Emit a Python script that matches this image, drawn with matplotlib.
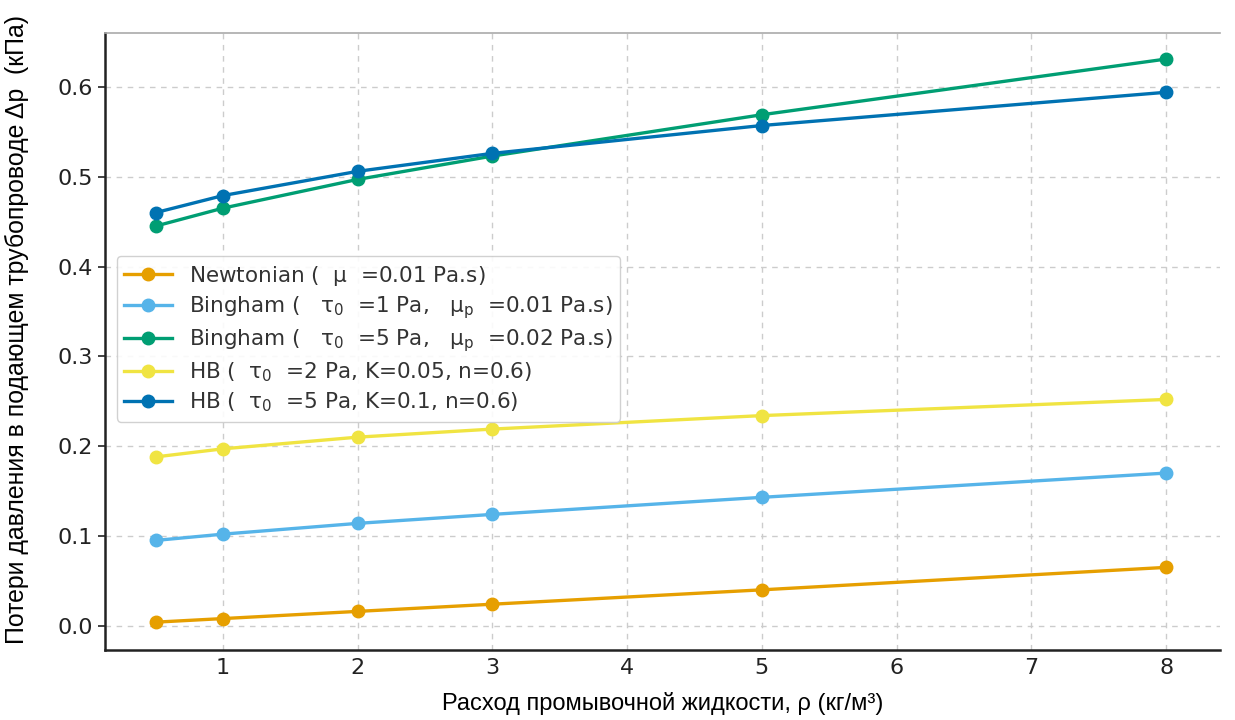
import matplotlib
matplotlib.use("Agg")
import matplotlib.pyplot as plt

x = [0.5, 1, 2, 3, 5, 8]
newtonian = [0.004, 0.008, 0.016, 0.024, 0.040, 0.065]
bingham1 = [0.095, 0.102, 0.114, 0.124, 0.143, 0.170]
bingham5 = [0.445, 0.465, 0.497, 0.523, 0.569, 0.631]
hb1 = [0.188, 0.197, 0.210, 0.219, 0.234, 0.252]
hb5 = [0.460, 0.479, 0.506, 0.526, 0.557, 0.594]

labels = [
    r"Newtonian (  $\mathregular{μ}$  =0.01 Pa.s)",
    r"Bingham (   $\mathregular{τ_0}$  =1 Pa,   $\mathregular{μ_p}$  =0.01 Pa.s)",
    r"Bingham (   $\mathregular{τ_0}$  =5 Pa,   $\mathregular{μ_p}$  =0.02 Pa.s)",
    r"HB (  $\mathregular{τ_0}$  =2 Pa, K=0.05, n=0.6)",
    r"HB (  $\mathregular{τ_0}$  =5 Pa, K=0.1, n=0.6)",
]
colors = ["#E69F00", "#56B4E9", "#009E73", "#F0E442", "#0072B2"]
series = [newtonian, bingham1, bingham5, hb1, hb5]

fig = plt.figure(figsize=(12.35, 7.2), dpi=100)
ax = fig.add_axes([105/1235, 70/720, (1220-105)/1235, (650-33)/720])

for ys, c, lab in zip(series, colors, labels):
    ax.plot(x, ys, color=c, marker="o", markersize=9, linewidth=2.4, label=lab)

ax.set_xlim(0.124, 8.4)
ax.set_ylim(-0.027, 0.660)
ax.set_xticks([1, 2, 3, 4, 5, 6, 7, 8])
ax.set_yticks([0.0, 0.1, 0.2, 0.3, 0.4, 0.5, 0.6])
ax.tick_params(axis="both", labelsize=16, colors="#222222")
ax.tick_params(axis="x", length=0, pad=6)
ax.tick_params(axis="y", length=5, width=1.2)
ax.grid(True, linestyle=(0, (4, 4)), color="#cccccc", linewidth=1)
ax.set_axisbelow(True)

ax.spines["right"].set_visible(False)
ax.spines["top"].set_color("#aaaaaa")
ax.spines["top"].set_linewidth(1.2)
for s in ["left", "bottom"]:
    ax.spines[s].set_linewidth(1.8)
    ax.spines[s].set_color("#222222")

ax.set_xlabel("Расход промывочной жидкости, ρ (кг/м³)",
              fontsize=17, family=["Liberation Sans", "DejaVu Sans"])
ax.xaxis.set_label_coords(0.5, -0.068)
ax.set_ylabel("Потери давления в подающем трубопроводе Δp  (кПа)",
              fontsize=17.9, family=["Liberation Sans", "DejaVu Sans"])
ax.yaxis.set_label_coords(-0.068, 0.52)

leg = ax.legend(loc="upper left", bbox_to_anchor=(0.001, 0.656), fontsize=15.5,
                frameon=True, framealpha=0.9, edgecolor="#cccccc",
                handlelength=2.2, borderpad=0.35, labelspacing=0.3)
for t in leg.get_texts():
    t.set_color("#333333")

fig.savefig("out.png", dpi=100)
